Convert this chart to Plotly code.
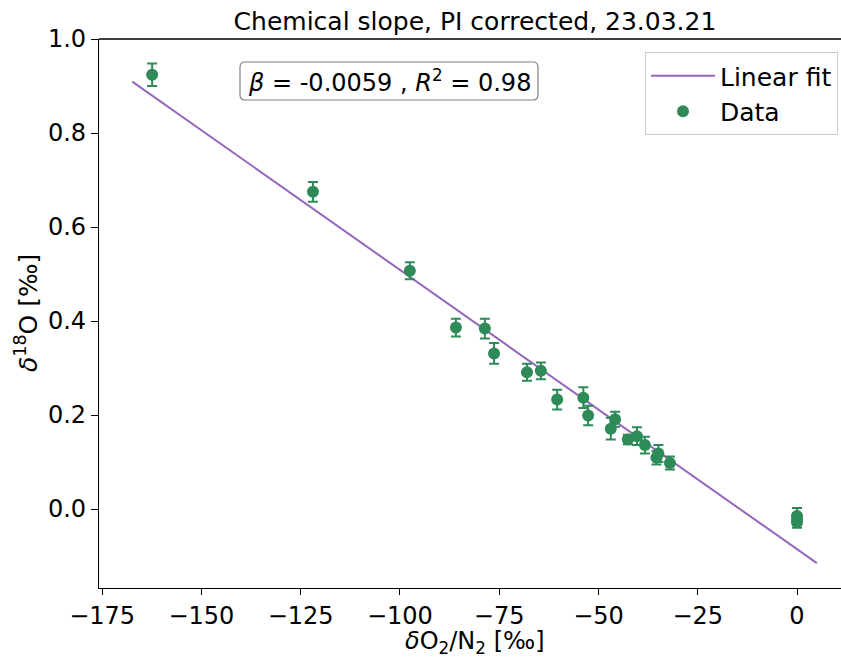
import plotly.graph_objects as go

# ---- data ----
x_vals = [-162.4, -121.9, -97.5, -85.9, -78.6, -76.3, -68.0, -64.5, -60.4, -53.8,
          -52.6, -46.9, -45.8, -42.6, -40.3, -38.3, -35.4, -34.9, -32.0, 0.0, 0.0, 0.0]
y_vals = [0.924, 0.675, 0.507, 0.386, 0.384, 0.331, 0.291, 0.294, 0.233, 0.237,
          0.199, 0.171, 0.191, 0.148, 0.155, 0.136, 0.109, 0.118, 0.098, -0.015, -0.022, -0.028]
y_err = [0.024, 0.021, 0.018, 0.019, 0.021, 0.022, 0.018, 0.018, 0.021, 0.022,
         0.021, 0.023, 0.016, 0.010, 0.019, 0.018, 0.014, 0.018, 0.014, 0.017, 0.012, 0.012]

fit_slope = -0.005943
fit_intercept = -0.0855
fit_x = [min(x_vals) - 5, max(x_vals) + 5]
fit_y = [fit_slope * v + fit_intercept for v in fit_x]

title_text = "Chemical slope, PI corrected, 23.03.21"
x_title = "<i>δ</i>O<sub>2</sub>/N<sub>2</sub> [‰]"
y_title = "<i>δ</i><sup>18</sup>O [‰]"
stats_text = "<i>β</i> = -0.0059 , <i>R</i><sup>2</sup> = 0.98"
x_ticks = [-175, -150, -125, -100, -75, -50, -25, 0]
y_ticks = [0.0, 0.2, 0.4, 0.6, 0.8, 1.0]

GREEN = "#2e8b57"
PURPLE = "#9467bd"
FONT = "DejaVu Sans"
TICK_SIZE = 24
LABEL_SIZE = 25

W, H = 841, 657
L, R, T, B = 99, 0, 39, 69
pw, ph = W - L - R, H - T - B


def px_x(p):
    return (p - L) / pw


def px_y(p):
    return (H - B - p) / ph


fig = go.Figure()
fig.add_trace(go.Scatter(
    x=fit_x, y=fit_y, mode="lines", name="Linear fit",
    line=dict(color=PURPLE, width=2)))
fig.add_trace(go.Scatter(
    x=x_vals, y=y_vals, mode="markers", name="Data",
    marker=dict(color=GREEN, size=12),
    error_y=dict(type="data", array=y_err, visible=True, color=GREEN,
                 thickness=2, width=5)))


def rounded_rect(x0, y0, x1, y1, r):
    # pixel coords -> paper path with rounded corners
    rx, ry = r / pw, r / ph
    a0, a1 = px_x(x0), px_x(x1)
    b0, b1 = px_y(y1), px_y(y0)  # b0 bottom, b1 top
    return (f"M {a0+rx},{b1} L {a1-rx},{b1} Q {a1},{b1} {a1},{b1-ry} "
            f"L {a1},{b0+ry} Q {a1},{b0} {a1-rx},{b0} L {a0+rx},{b0} "
            f"Q {a0},{b0} {a0},{b0+ry} L {a0},{b1-ry} Q {a0},{b1} {a0+rx},{b1} Z")


shapes = [
    # top spine
    dict(type="line", xref="paper", yref="paper", x0=0, x1=1, y0=1, y1=1,
         line=dict(color="black", width=1.3)),
    # stats box
    dict(type="path", xref="paper", yref="paper",
         path=rounded_rect(240, 62, 538, 100, 5),
         line=dict(color="#808080", width=1.2), fillcolor="white"),
]

annotations = [
    dict(text=stats_text, xref="paper", yref="paper", x=px_x(389), y=px_y(81),
         xanchor="center", yanchor="middle", showarrow=False,
         font=dict(family=FONT, size=TICK_SIZE, color="black")),
    dict(text=x_title, xref="paper", yref="paper", x=px_x(475), y=px_y(642.5),
         xanchor="center", yanchor="middle", showarrow=False,
         font=dict(family=FONT, size=24, color="black")),
    dict(text=y_title, xref="paper", yref="paper", x=px_x(26), y=px_y(313),
         xanchor="center", yanchor="middle", showarrow=False, textangle=-90,
         font=dict(family=FONT, size=LABEL_SIZE, color="black")),
]

fig.update_layout(
    width=W, height=H,
    margin=dict(l=L, r=R, t=T, b=B, pad=0),
    paper_bgcolor="white", plot_bgcolor="white",
    font=dict(family=FONT, size=TICK_SIZE, color="black"),
    title=dict(text=title_text, x=475 / W, xref="container", xanchor="center",
               y=1 - 21 / H, yref="container", yanchor="middle",
               font=dict(family=FONT, size=LABEL_SIZE, color="black")),
    showlegend=True,
    legend=dict(x=px_x(838), y=px_y(52), xanchor="right", yanchor="top",
                bgcolor="white", bordercolor="#cccccc", borderwidth=1,
                font=dict(family=FONT, size=LABEL_SIZE, color="black"),
                traceorder="normal", itemwidth=64),
    shapes=shapes, annotations=annotations,
)
fig.update_xaxes(range=[-175.78, 11.08], tickvals=x_ticks, showgrid=False,
                 zeroline=False, showline=True, linecolor="black", linewidth=1.3,
                 ticks="outside", ticklen=6, tickwidth=1.3, tickcolor="black",
                 tickfont=dict(family=FONT, size=TICK_SIZE, color="black"))
fig.update_yaxes(range=[-0.168, 1.0], tickvals=y_ticks, tickformat=".1f",
                 showgrid=False, zeroline=False, showline=True, linecolor="black",
                 linewidth=1.3, ticks="outside", ticklen=7, tickwidth=1.3,
                 tickcolor="black",
                 tickfont=dict(family=FONT, size=TICK_SIZE, color="black"))

fig.write_html("out.html")
